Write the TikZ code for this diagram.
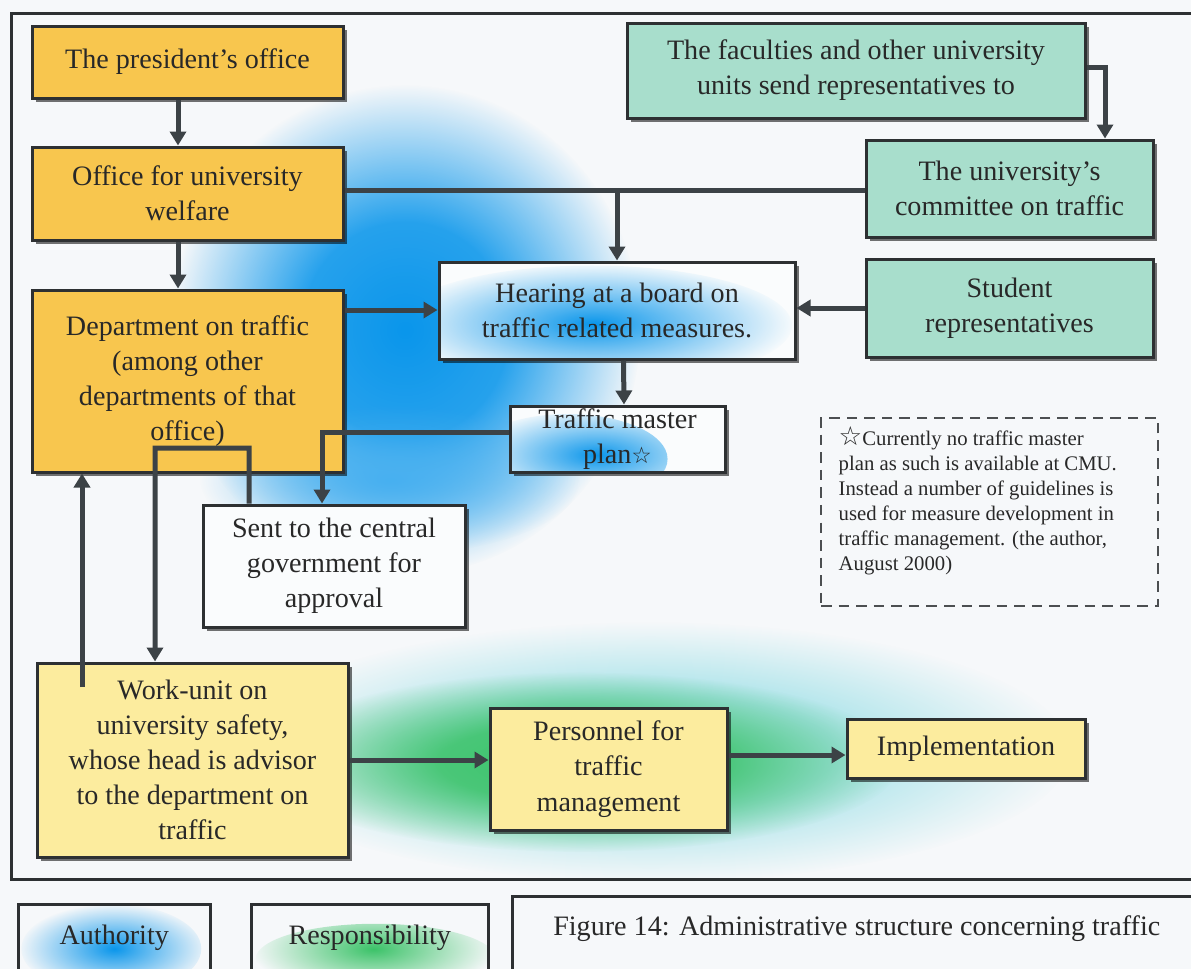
\documentclass[tikz,border=0pt]{standalone}
\usepackage{fontspec}
\setmainfont{Liberation Serif}
\newfontfamily\symfont{DejaVu Sans}
\usetikzlibrary{arrows.meta,shadows,fadings}
\pgfdeclareradialshading{glowshade}{\pgfpointorigin}{color(0bp)=(white); color(6bp)=(white!75!black); color(25bp)=(black); color(50bp)=(black)}
\pgfdeclarefading{glowfade}{\pgfuseshading{glowshade}}
\pgfdeclareradialshading{wideshade}{\pgfpointorigin}{color(0bp)=(white); color(11bp)=(white!88!black); color(25bp)=(black); color(50bp)=(black)}
\pgfdeclarefading{widefade}{\pgfuseshading{wideshade}}
\definecolor{bgc}{RGB}{246,248,250}
\definecolor{orangebox}{RGB}{248,198,78}
\definecolor{tealbox}{RGB}{168,222,204}
\definecolor{yellowbox}{RGB}{252,236,158}
\definecolor{whitebox}{RGB}{250,252,253}
\definecolor{boxline}{RGB}{45,48,50}
\definecolor{arrowc}{RGB}{60,66,70}
\definecolor{txt}{RGB}{40,40,40}
\definecolor{authblue}{RGB}{10,150,235}
\definecolor{respgreen}{RGB}{60,195,105}
\definecolor{respcyan}{RGB}{160,225,232}
\begin{document}
\begin{tikzpicture}[x=0.1mm,y=-0.1mm,
  box/.style={draw=boxline, line width=0.3mm, align=center, text=txt, inner sep=0pt,
    font=\fontsize{8}{10}\selectfont,
    drop shadow={shadow xshift=0.35mm, shadow yshift=-0.35mm, fill=black, opacity=0.55}},
  obox/.style={box, fill=orangebox},
  gbox/.style={box, fill=tealbox},
  ybox/.style={box, fill=yellowbox},
  wbox/.style={box, fill=whitebox},
  conn/.style={draw=arrowc, line width=0.5mm},
  arr/.style={conn, -{Triangle[length=1.4mm, width=1.6mm]}},
  legbox/.style={draw=boxline, line width=0.25mm, align=center, text=txt, inner sep=0pt,
    font=\fontsize{8}{10}\selectfont},
  notebox/.style={draw=boxline!85, densely dashed, line width=0.2mm},
  frameline/.style={draw=boxline, line width=0.3mm},
]
\useasboundingbox (0,0) rectangle (1191,969);
\fill[bgc] (0,0) rectangle (1191,969);
\begin{scope}
\clip (0,0) rectangle (1191,969);
% background glows
\fill[authblue, path fading=widefade] (405,330) ellipse (235 and 245);
\fill[authblue!75, path fading=glowfade] (390,480) ellipse (190 and 75);
\fill[respcyan, path fading=widefade] (650,752) ellipse (420 and 130);
\fill[respgreen, path fading=widefade] (580,762) ellipse (320 and 90);
% frame
\draw[frameline] (1200,13) -- (11,13) -- (11,879) -- (1200,879);

% boxes
\node[obox, minimum width=31.1mm, minimum height=7.2mm] (pres) at (187.5,62) {The president’s office};
\node[obox, minimum width=31.1mm, minimum height=9.3mm] (welfare) at (187.5,193.5) {Office for university\\welfare};
\node[obox, minimum width=31.1mm, minimum height=18.2mm] (dept) at (187.5,381) {Department on traffic\\(among other\\departments of that\\office)};
\node[gbox, minimum width=45.8mm, minimum height=9.5mm] (faculties) at (856,70.5) {The faculties and other university\\units send representatives to};
\node[gbox, minimum width=28.7mm, minimum height=9.7mm] (committee) at (1009.5,188.5) {The university’s\\committee on traffic};
\node[gbox, minimum width=28.7mm, minimum height=9.8mm] (student) at (1009.5,308) {Student\\representatives};
\node[wbox, minimum width=35.6mm, minimum height=9.7mm,
  path picture={\fill[authblue, path fading=glowfade] ([xshift=-2.5mm,yshift=-1.5mm]path picture bounding box.center) ellipse (20mm and 6mm);}]
  (hearing) at (617,310.5) {Hearing at a board on\\traffic related measures.};
\node[wbox, minimum width=21.5mm, minimum height=6.6mm,
  path picture={\fill[authblue, path fading=glowfade] ([xshift=-5mm,yshift=-2mm]path picture bounding box.center) ellipse (10mm and 4.5mm);}]
  (tmp) at (617.5,439) {Traffic master\\plan{\symfont\fontsize{6.5}{8}\selectfont ☆}};
\node[wbox, minimum width=26.2mm, minimum height=12.2mm] (sent) at (334,566) {Sent to the central\\government for\\approval};
\node[ybox, minimum width=31.1mm, minimum height=19.4mm] (workunit) at (192.5,760) {Work-unit on\\university safety,\\whose head is advisor\\to the department on\\traffic};
\node[ybox, minimum width=23.7mm, minimum height=12.2mm] (personnel) at (608.5,769) {Personnel for\\traffic\\management};
\node[ybox, minimum width=23.8mm, minimum height=5.9mm] (impl) at (966,748.5) {Implementation};

% note
\node[notebox, anchor=north west, minimum width=33.7mm, minimum height=18.8mm] (note) at (820,417) {};
\node[anchor=north west, align=left, inner sep=0pt, text=txt, font=\fontsize{5.9}{7.1}\selectfont] (notetxt) at (838,426)
  {{\symfont\fontsize{7.5}{7.1}\selectfont ☆}Currently no traffic master\\plan as such is available at CMU.\\Instead a number of guidelines is\\used for measure development in\\traffic management. (the author,\\August 2000)};

% connectors
\draw[arr] ([xshift=-0.95mm]pres.south) -- ([xshift=-0.95mm]welfare.north);
\draw[arr] ([xshift=-0.95mm]welfare.south) -- ([xshift=-0.95mm]dept.north);
\coordinate (wl) at ([yshift=0.35mm]welfare.east);
\draw[conn] (wl) -- (wl -| committee.west);
\coordinate (j1) at (wl -| hearing.north);
\draw[arr] (j1) -- (hearing.north);
\coordinate (fc) at ([yshift=0.35mm]faculties.east);
\draw[arr] (fc) -| ([xshift=9.55mm]committee.north);
\coordinate (dh) at ([yshift=7.1mm]dept.east);
\draw[arr] (dh) -- (dh -| hearing.west);
\draw[arr] (student.west) -- (student.west -| hearing.east);
\draw[arr] ([xshift=0.65mm]hearing.south) -- ([xshift=0.65mm]tmp.north);
\draw[arr] ([yshift=0.7mm]tmp.west) -| ([xshift=-1.2mm]sent.north);
\coordinate (lp) at (155,448);
\draw[arr] ([xshift=-8.5mm]sent.north) |- (lp) -- ([xshift=-3.75mm]workunit.north);
\coordinate (ua) at (82,687);
\draw[arr] (ua) -- (ua |- dept.south);
\draw[arr] (workunit.east) -- (workunit.east -| personnel.west);
\coordinate (pi) at ([yshift=-0.65mm]impl.west);
\draw[arr] (pi -| personnel.east) -- (pi);

% legend
\node[legbox, anchor=north west, minimum width=19.2mm, minimum height=7.7mm, text depth=1.6mm,
  path picture={\fill[authblue, path fading=glowfade] ([xshift=-0.3mm,yshift=-0.6mm]path picture bounding box.center) ellipse (9mm and 4.5mm);}]
  (auth) at (17,903) {Authority};
\node[legbox, anchor=north west, minimum width=23.7mm, minimum height=7.7mm, text depth=1.6mm,
  path picture={\fill[respgreen, path fading=glowfade] ([xshift=0.6mm,yshift=-1.6mm]path picture bounding box.center) ellipse (12mm and 3.5mm);}]
  (resp) at (250,903) {Responsibility};
\node[legbox, anchor=north west, minimum width=68.9mm, minimum height=8.5mm, text depth=2.6mm]
  (caption) at (511,895) {Figure 14: Administrative structure concerning traffic};
\end{scope}
\end{tikzpicture}
\end{document}
